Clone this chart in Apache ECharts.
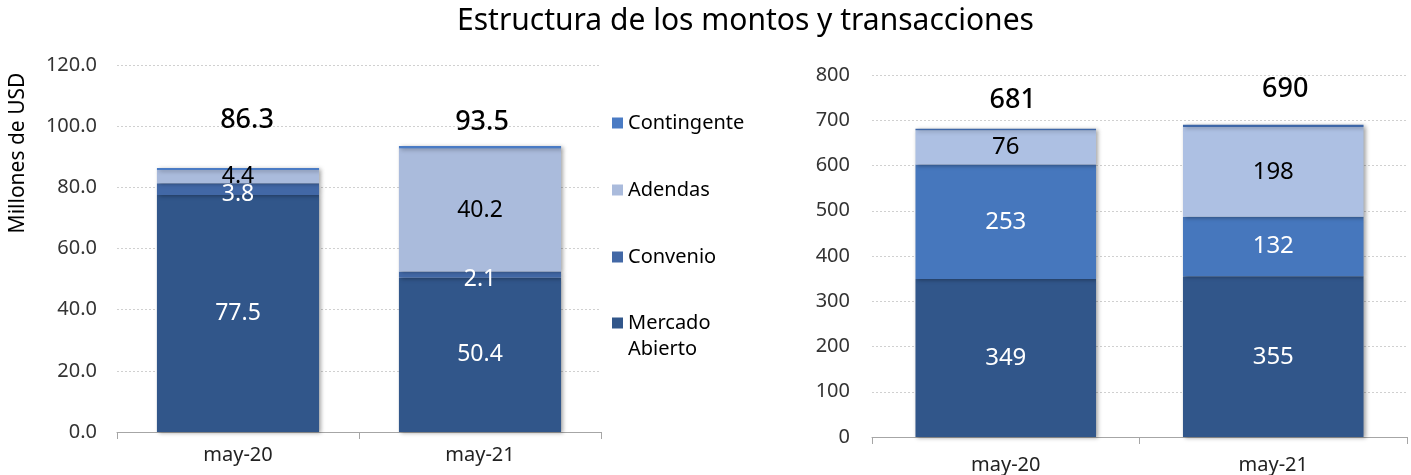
<!DOCTYPE html>
<html>
<head>
<meta charset="utf-8">
<script src="https://cdn.jsdelivr.net/npm/echarts@6/dist/echarts.min.js"></script>
<style>
  html, body { margin: 0; padding: 0; background: #fff; }
  #chart { width: 1411px; height: 475px; }
</style>
</head>
<body>
<div id="chart"></div>
<script>
// datos
var categorias = ['may-20', 'may-21'];

// montos (millones de USD)
var montoMercado = [77.5, 50.4];
var montoConvenio = [3.8, 2.1];
var montoAdendas = [4.4, 40.2];
var montoContingente = [0.6, 0.8];
var montoTotal = [86.3, 93.5];

// transacciones
var transMercado = [349, 355];
var transConvenio = [253, 132];
var transAdendas = [76, 198];
var transContingente = [3, 5];
var transTotal = [681, 690];

var montoTicks = [0, 20, 40, 60, 80, 100, 120];
var transTicks = [0, 100, 200, 300, 400, 500, 600, 700, 800];

var fuente = '"Noto Sans", "Open Sans", sans-serif';
var sombra = {
  shadowColor: 'rgba(0,0,0,0.35)',
  shadowBlur: 4,
  shadowOffsetX: 2,
  shadowOffsetY: 1
};

function estilo(color) {
  return Object.assign({ color: color }, sombra);
}

function etiqueta(color, size, offset) {
  return {
    show: true,
    position: 'inside',
    color: color,
    fontSize: size,
    fontFamily: fuente,
    offset: offset || [0, 0]
  };
}

// etiqueta del total sobre la barra (en la serie superior)
function totales(valores, totals, offsets, decimales) {
  return valores.map(function (v, i) {
    return {
      value: v,
      label: {
        show: true,
        position: 'top',
        offset: offsets[i],
        fontSize: 27,
        fontWeight: 500,
        color: '#000',
        fontFamily: fuente,
        formatter: function () {
          return totals[i].toFixed(decimales);
        }
      }
    };
  });
}

var myChart = echarts.init(document.getElementById('chart'));

var ejeX = function (grid, margen) {
  return {
    type: 'category',
    gridIndex: grid,
    data: categorias,
    axisLine: { lineStyle: { color: '#a6a6a6' } },
    axisTick: { show: true, length: 7, lineStyle: { color: '#a6a6a6' } },
    axisLabel: { color: '#222', fontSize: 20, fontFamily: fuente, margin: margen }
  };
};

var textoLeyenda = { fontSize: 20, color: '#000', fontFamily: fuente, lineHeight: 26 };

var option = {
  backgroundColor: '#fff',
  animation: false,
  title: {
    text: 'Estructura de los montos y transacciones',
    left: 452,
    top: 1,
    textStyle: { fontSize: 30, fontWeight: 'normal', color: '#000', fontFamily: fuente }
  },
  legend: [
    {
      orient: 'vertical',
      left: 607,
      top: 105,
      itemWidth: 11,
      itemHeight: 11,
      itemGap: 41,
      icon: 'rect',
      data: ['Contingente', 'Adendas', 'Convenio'],
      textStyle: textoLeyenda
    },
    {
      orient: 'vertical',
      left: 607,
      top: 279,
      itemWidth: 11,
      itemHeight: 11,
      icon: 'rect',
      data: ['Mercado Abierto'],
      // linea vacia arriba para que el cuadro quede junto a la primera linea
      formatter: function (name) {
        return ' \n' + name.replace(' ', '\n');
      },
      textStyle: textoLeyenda
    }
  ],
  graphic: [{
    type: 'text',
    x: 18,
    y: 153,
    rotation: Math.PI / 2,
    style: {
      text: 'Millones de USD',
      fontSize: 21,
      fontFamily: fuente,
      fill: '#000',
      align: 'center',
      verticalAlign: 'middle'
    }
  }],
  grid: [
    { left: 117, right: 810, top: 65, bottom: 43 },
    { left: 872, right: 4, top: 75, bottom: 38 }
  ],
  xAxis: [ejeX(0, 13), ejeX(1, 18)],
  yAxis: [
    {
      type: 'value',
      gridIndex: 0,
      min: montoTicks[0],
      max: montoTicks[montoTicks.length - 1],
      interval: 20,
      axisLine: { show: false },
      axisTick: { show: false },
      axisLabel: {
        color: '#333', fontSize: 20, fontFamily: fuente, margin: 20,
        formatter: function (v) { return v.toFixed(1); }
      },
      splitLine: { lineStyle: { color: '#d0d0d0', type: [2, 2] } }
    },
    {
      type: 'value',
      gridIndex: 1,
      min: transTicks[0],
      max: transTicks[transTicks.length - 1],
      interval: 100,
      axisLine: { show: false },
      axisTick: { show: false },
      axisLabel: { color: '#333', fontSize: 20, fontFamily: fuente, margin: 22 },
      splitLine: { lineStyle: { color: '#d0d0d0', type: [2, 2] } }
    }
  ],
  series: [
    // montos
    {
      name: 'Mercado Abierto', type: 'bar', stack: 'montos', xAxisIndex: 0, yAxisIndex: 0,
      barWidth: '67%', itemStyle: estilo('#31568a'),
      label: etiqueta('#fff', 23),
      data: montoMercado
    },
    {
      name: 'Convenio', type: 'bar', stack: 'montos', xAxisIndex: 0, yAxisIndex: 0,
      barWidth: '67%', itemStyle: estilo('#4268a6'),
      label: etiqueta('#fff', 23, [0, 5]),
      data: montoConvenio
    },
    {
      name: 'Adendas', type: 'bar', stack: 'montos', xAxisIndex: 0, yAxisIndex: 0,
      barWidth: '67%', itemStyle: estilo('#aabbdc'),
      label: etiqueta('#000', 23),
      data: montoAdendas
    },
    {
      name: 'Contingente', type: 'bar', stack: 'montos', xAxisIndex: 0, yAxisIndex: 0,
      barWidth: '67%', itemStyle: estilo('#4a7bc4'),
      data: totales(montoContingente, montoTotal, [[9, -29], [2, -5]], 1)
    },
    // transacciones
    {
      name: 'Mercado Abierto', type: 'bar', stack: 'trans', xAxisIndex: 1, yAxisIndex: 1,
      barWidth: '67.5%', itemStyle: estilo('#31568a'),
      label: etiqueta('#fff', 24),
      data: transMercado
    },
    {
      name: 'Convenio', type: 'bar', stack: 'trans', xAxisIndex: 1, yAxisIndex: 1,
      barWidth: '67.5%', itemStyle: estilo('#4677bd'),
      label: etiqueta('#fff', 24),
      data: transConvenio
    },
    {
      name: 'Adendas', type: 'bar', stack: 'trans', xAxisIndex: 1, yAxisIndex: 1,
      barWidth: '67.5%', itemStyle: estilo('#adc0e3'),
      label: etiqueta('#000', 24),
      data: transAdendas
    },
    {
      name: 'Contingente', type: 'bar', stack: 'trans', xAxisIndex: 1, yAxisIndex: 1,
      barWidth: '67.5%', itemStyle: estilo('#3e67a8'),
      data: totales(transContingente, transTotal, [[7, -10], [12, -17]], 0)
    }
  ]
};

myChart.setOption(option);
</script>
</body>
</html>
